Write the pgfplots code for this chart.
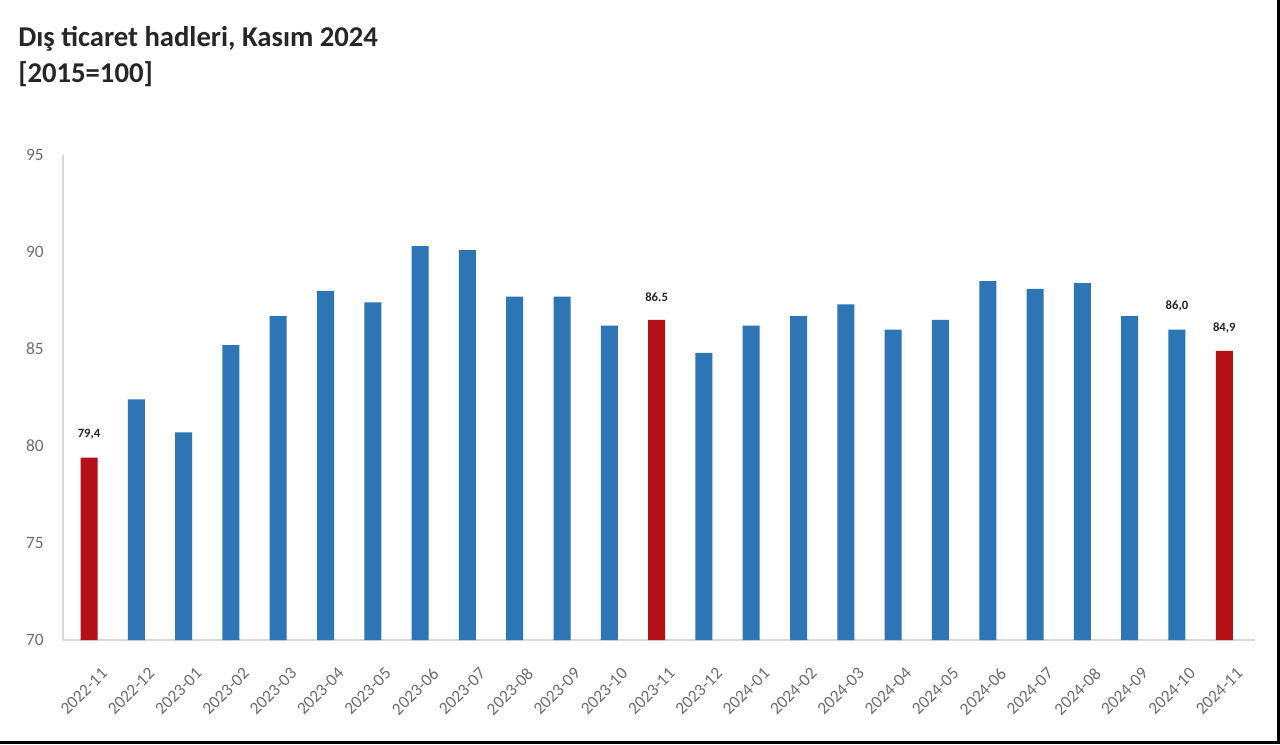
\documentclass[border=0pt]{standalone}
\usepackage{fontspec}
\setmainfont{Carlito}
\usepackage{pgfplots}
\pgfplotsset{compat=1.18}
\definecolor{barblue}{RGB}{46,117,182}
\definecolor{barred}{RGB}{180,16,24}
\definecolor{axgray}{RGB}{217,217,217}
\definecolor{lblgray}{RGB}{110,110,110}
\definecolor{titlecol}{RGB}{38,38,38}
\begin{document}
\begin{tikzpicture}[x=0.75pt,y=0.75pt]
\fill[white] (0,0) rectangle (1280,744);
\node[anchor=base west, inner sep=0pt, font=\bfseries\fontsize{21.5}{24}\selectfont, text=titlecol] at (18,697) {Dış ticaret hadleri, Kasım 2024};
\node[anchor=base west, inner sep=0pt, font=\bfseries\fontsize{21.5}{24}\selectfont, text=titlecol] at (18,661) {[2015=100]};
\begin{axis}[
  at={(47.25pt,78pt)}, anchor=south west,
  scale only axis, width=894pt, height=363.75pt,
  xmin=-0.55, xmax=24.65, ymin=70, ymax=95,
  enlargelimits=false, clip=false,
  ytick={70,75,...,95},
  xtick={0,...,24},
  xticklabels={2022-11,2022-12,2023-01,2023-02,2023-03,2023-04,2023-05,2023-06,2023-07,2023-08,2023-09,2023-10,2023-11,2023-12,2024-01,2024-02,2024-03,2024-04,2024-05,2024-06,2024-07,2024-08,2024-09,2024-10,2024-11},
  x tick label style={rotate=45, anchor=north east, font=\fontsize{13}{15}\selectfont, text=lblgray, inner sep=1pt, xshift=-7pt, yshift=-19pt},
  y tick label style={font=\fontsize{13}{15}\selectfont, text=lblgray, xshift=-11pt},
  /pgf/number format/assume math mode=true,
  axis lines*=left,
  axis line style={draw=axgray, line width=1pt},
  major tick length=0pt,
  ybar, bar width=12.75pt, bar shift=0pt,
]
\addplot[fill=barblue, draw=none] coordinates {
  (1,82.4) (2,80.7) (3,85.2) (4,86.7) (5,88.0) (6,87.4) (7,90.3) (8,90.1)
  (9,87.7) (10,87.7) (11,86.2) (13,84.8) (14,86.2) (15,86.7) (16,87.3)
  (17,86.0) (18,86.5) (19,88.5) (20,88.1) (21,88.4) (22,86.7) (23,86.0)
};
\addplot[fill=barred, draw=none] coordinates {
  (0,79.4) (12,86.5) (24,84.9)
};
\addplot[draw=none, fill=none, nodes near coords, point meta=explicit symbolic,
  every node near coord/.append style={font=\bfseries\fontsize{9.5}{11}\selectfont, text=black!85, yshift=10pt}]
  coordinates {(0,79.4) [{79,4}] (12,86.5) [{86.5}] (23,86.0) [{86,0}] (24,84.9) [{84,9}]};
\end{axis}
\draw[black, line width=2.25pt] (0,2) -- (1278,2) -- (1278,744);
\pgfresetboundingbox
\useasboundingbox (0,0) rectangle (1280,744);
\end{tikzpicture}
\end{document}
